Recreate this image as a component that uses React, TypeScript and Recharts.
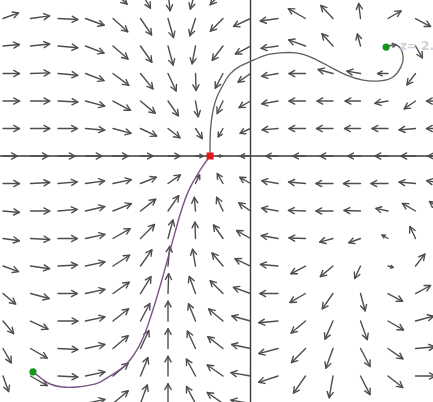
import React from 'react';
import { ComposedChart, XAxis, YAxis, Line, Scatter, ReferenceLine, ReferenceDot } from 'recharts';

// grid of the direction field (grid units)
const columnX = [-9, -8, -7, -6, -5, -4, -3, -2, -1, 0, 1, 2, 3, 4, 5, 6, 7];
const rowY = [6, 5, 4, 3, 2, 1, 0, -1, -2, -3, -4, -5, -6, -7, -8, -9];

// arrow directions in degrees (0 = right, 90 = up); null = not visible
const arrowAngles: (number | null)[][] = [
  [null, null, null, null, -43, -60, -84, -106, -133, -155, null, null, null, null, null, null, null],
  [20, 8, -3, -20, -42, -56, -74, -108, -135, -155, -172, 150, 133, 97, 30, -28, null],
  [5, 6, -5, -21, -41, -55, -75, -101, -127, -152, -172, 160, 132, 105, 10, -60, null],
  [0, 2, -5, -21, -37, -51, -65, -88, -118, -145, -170, 180, 165, 170, 180, -127, null],
  [0, 0, -3, -15, -28, -40, -55, -80, -115, -150, -170, 180, 180, 180, -170, -145, 180],
  [0, 0, 0, -5, -15, -25, -38, -56, -120, -155, -175, 180, 180, 180, 180, -175, 180],
  [0, 0, 0, 0, 0, 0, 0, 0, 180, 180, 180, 180, 180, 180, 180, 180, 180],
  [0, 3, 5, 8, 12, 22, 35, 65, 120, 150, 170, 175, 180, 180, 180, 175, 170],
  [-5, 0, 5, 13, 22, 38, 55, 95, 115, 145, 170, 178, 180, 178, 168, 150, 145],
  [-8, -3, 0, 12, 30, 45, 75, 92, 125, 150, 170, 178, -165, -160, 150, 115, 130],
  [-20, -8, 3, 12, 33, 55, 85, 100, 130, 155, 175, -152, -140, -115, -15, 52, null],
  [-40, -15, 0, 12, 35, 58, 88, 110, 135, 160, 180, -150, -125, -75, -28, 28, null],
  [-50, -25, 0, 12, 38, 62, 90, 112, 140, 165, -175, -140, -114, -70, -30, 15, null],
  [-60, -30, -3, 12, 40, 65, 90, 115, 142, 168, -165, -135, -110, -62, -35, 5, null],
  [-70, -30, -3, 12, 40, 68, 90, 118, 145, 170, -162, -125, -100, -63, -38, 0, null],
  [null, null, null, 12, 40, 70, 90, 118, 145, 170, null, null, null, null, null, null, null],
];

// arrow magnitudes (grid units)
const arrowLengths: number[][] = [
  [0, 0, 0, 0, 0.7, 0.72, 0.72, 0.68, 0.68, 0.68, 0, 0, 0, 0, 0, 0, 0],
  [0.6, 0.7, 0.72, 0.72, 0.72, 0.72, 0.72, 0.66, 0.65, 0.68, 0.65, 0.72, 0.65, 0.55, 0.55, 0.62, 0],
  [0.6, 0.7, 0.72, 0.72, 0.72, 0.72, 0.72, 0.66, 0.65, 0.62, 0.62, 0.65, 0.6, 0.45, 0.3, 0.5, 0],
  [0.6, 0.7, 0.72, 0.72, 0.72, 0.72, 0.7, 0.62, 0.6, 0.55, 0.6, 0.6, 0.56, 0.5, 0.38, 0.52, 0],
  [0.6, 0.7, 0.72, 0.72, 0.72, 0.7, 0.66, 0.58, 0.5, 0.48, 0.6, 0.6, 0.58, 0.56, 0.48, 0.5, 0.6],
  [0.6, 0.7, 0.7, 0.7, 0.68, 0.65, 0.55, 0.44, 0.35, 0.42, 0.58, 0.6, 0.6, 0.58, 0.58, 0.6, 0.6],
  [0.52, 0.64, 0.62, 0.6, 0.55, 0.46, 0.44, 0.28, 0.18, 0.38, 0.44, 0.46, 0.47, 0.46, 0.47, 0.53, 0.55],
  [0.6, 0.7, 0.7, 0.7, 0.68, 0.62, 0.55, 0.35, 0.42, 0.45, 0.6, 0.62, 0.62, 0.62, 0.62, 0.6, 0.6],
  [0.6, 0.7, 0.7, 0.72, 0.72, 0.7, 0.68, 0.5, 0.55, 0.52, 0.6, 0.62, 0.62, 0.6, 0.45, 0.55, 0.6],
  [0.6, 0.7, 0.7, 0.72, 0.72, 0.72, 0.7, 0.6, 0.6, 0.58, 0.62, 0.6, 0.5, 0.45, 0.25, 0.48, 0.5],
  [0.6, 0.7, 0.7, 0.72, 0.72, 0.72, 0.72, 0.62, 0.62, 0.62, 0.64, 0.6, 0.6, 0.5, 0.2, 0.55, 0],
  [0.6, 0.7, 0.7, 0.72, 0.72, 0.72, 0.72, 0.66, 0.66, 0.66, 0.66, 0.65, 0.68, 0.65, 0.6, 0.62, 0],
  [0.6, 0.7, 0.72, 0.72, 0.72, 0.72, 0.72, 0.68, 0.68, 0.7, 0.7, 0.68, 0.72, 0.72, 0.65, 0.68, 0],
  [0.6, 0.7, 0.72, 0.72, 0.72, 0.72, 0.72, 0.7, 0.7, 0.7, 0.72, 0.72, 0.76, 0.74, 0.66, 0.7, 0],
  [0.6, 0.7, 0.72, 0.72, 0.72, 0.72, 0.72, 0.7, 0.7, 0.72, 0.74, 0.76, 0.8, 0.76, 0.68, 0.72, 0],
  [0, 0, 0, 0.72, 0.72, 0.72, 0.72, 0.7, 0.7, 0.72, 0, 0, 0, 0, 0, 0, 0],
];

// trajectory from the equilibrium to the upper green point
const upperCurve = [
  { x: -1.47, y: 0 }, { x: -1.47, y: 0.58 }, { x: -1.44, y: 1.13 }, { x: -1.36, y: 1.67 },
  { x: -1.22, y: 2.15 }, { x: -1.0, y: 2.58 }, { x: -0.75, y: 2.98 }, { x: -0.38, y: 3.27 },
  { x: 0.02, y: 3.45 }, { x: 0.56, y: 3.67 }, { x: 1.07, y: 3.75 }, { x: 1.65, y: 3.75 },
  { x: 2.27, y: 3.56 }, { x: 2.89, y: 3.24 }, { x: 3.47, y: 2.95 }, { x: 4.09, y: 2.76 },
  { x: 4.71, y: 2.73 }, { x: 5.18, y: 2.87 }, { x: 5.47, y: 3.24 }, { x: 5.55, y: 3.6 },
  { x: 5.44, y: 3.93 }, { x: 5.22, y: 4.04 }, { x: 4.93, y: 3.96 },
];

// trajectory from the lower green point to the equilibrium
const lowerCurve = [
  { x: -7.91, y: -7.85 }, { x: -7.58, y: -8.11 }, { x: -7.29, y: -8.29 }, { x: -6.85, y: -8.4 },
  { x: -6.31, y: -8.4 }, { x: -5.84, y: -8.33 }, { x: -5.47, y: -8.22 }, { x: -5.04, y: -7.96 },
  { x: -4.67, y: -7.71 }, { x: -4.38, y: -7.42 }, { x: -4.13, y: -7.05 }, { x: -3.91, y: -6.62 },
  { x: -3.73, y: -6.15 }, { x: -3.55, y: -5.6 }, { x: -3.36, y: -4.98 }, { x: -3.18, y: -4.36 },
  { x: -3.0, y: -3.71 }, { x: -2.82, y: -3.05 }, { x: -2.64, y: -2.4 }, { x: -2.45, y: -1.78 },
  { x: -2.24, y: -1.24 }, { x: -1.98, y: -0.76 }, { x: -1.73, y: -0.36 }, { x: -1.47, y: 0 },
];

const equilibrium = [{ x: -1.47, y: 0 }];
const startPoints = [{ x: 4.93, y: 3.96 }, { x: -7.91, y: -7.85 }];
const sliderLabel = 'z= 2.';

const X_DOMAIN: [number, number] = [-9.109, 6.636];
const Y_DOMAIN: [number, number] = [-8.945, 5.673];

type Arrow = { key: string; x: number; y: number; x2: number; y2: number };
const arrows: Arrow[] = [];
rowY.forEach((y, r) => {
  columnX.forEach((x, c) => {
    const a = arrowAngles[r][c];
    const l = arrowLengths[r][c];
    if (a === null || !l) return;
    const rad = (a * Math.PI) / 180;
    arrows.push({ key: `a${r}_${c}`, x, y, x2: x + l * Math.cos(rad), y2: y + l * Math.sin(rad) });
  });
});

const ArrowShape = (props: any) => {
  const { x1, y1, x2, y2 } = props;
  const dx = x2 - x1;
  const dy = y2 - y1;
  const len = Math.hypot(dx, dy);
  if (!len || isNaN(len)) return <g />;
  const bx = -dx / len;
  const by = -dy / len;
  const h = Math.min(6.5, len * 0.5);
  const t = (28 * Math.PI) / 180;
  const c = Math.cos(t);
  const s = Math.sin(t);
  const p1x = x2 + h * (bx * c - by * s);
  const p1y = y2 + h * (bx * s + by * c);
  const p2x = x2 + h * (bx * c + by * s);
  const p2y = y2 + h * (-bx * s + by * c);
  return (
    <g>
      <line x1={x1} y1={y1} x2={x2} y2={y2} stroke="#4d4d4d" strokeWidth={1.4} strokeLinecap="round" />
      <polyline
        points={`${p1x},${p1y} ${x2},${y2} ${p2x},${p2y}`}
        fill="none"
        stroke="#4d4d4d"
        strokeWidth={1.4}
        strokeLinecap="round"
        strokeLinejoin="round"
      />
    </g>
  );
};

const RedSquare = (props: any) => {
  const { cx, cy } = props;
  return <rect x={cx - 3.5} y={cy - 3.5} width={7} height={7} fill="#e8141c" />;
};

const GreenDot = (props: any) => {
  const { cx, cy } = props;
  return <circle cx={cx} cy={cy} r={3.6} fill="#15951f" />;
};

export default function App() {
  return (
    <div style={{ position: 'absolute', left: 0, top: 0, width: 433, height: 402, background: '#fff' }}>
      <ComposedChart width={433} height={402} margin={{ top: 0, right: 0, bottom: 0, left: 0 }}>
        <XAxis type="number" dataKey="x" domain={X_DOMAIN} allowDataOverflow hide />
        <YAxis type="number" dataKey="y" domain={Y_DOMAIN} allowDataOverflow hide />
        <ReferenceLine x={0} stroke="#3a3a3a" strokeWidth={1.4} ifOverflow="visible" />
        <ReferenceLine y={0} stroke="#3a3a3a" strokeWidth={1.4} ifOverflow="visible" />
        <ReferenceDot
          x={5.25}
          y={4.0}
          r={0}
          fill="none"
          stroke="none"
          label={{ value: sliderLabel, position: 'right', offset: 5, fill: '#d2d2d2', fontSize: 12, fontFamily: 'DejaVu Sans', fontWeight: 'bold' }}
        />
        {arrows.map((a) => (
          <ReferenceLine
            key={a.key}
            segment={[{ x: a.x, y: a.y }, { x: a.x2, y: a.y2 }]}
            ifOverflow="visible"
            shape={ArrowShape}
          />
        ))}
        <Line
          data={upperCurve}
          dataKey="y"
          type="natural"
          stroke="#5f5f5f"
          strokeWidth={1.3}
          dot={false}
          activeDot={false}
          isAnimationActive={false}
        />
        <Line
          data={lowerCurve}
          dataKey="y"
          type="natural"
          stroke="#7a5486"
          strokeWidth={1.4}
          dot={false}
          activeDot={false}
          isAnimationActive={false}
        />
        <Scatter data={equilibrium} shape={RedSquare} isAnimationActive={false} />
        <Scatter data={startPoints} shape={GreenDot} isAnimationActive={false} />
      </ComposedChart>
    </div>
  );
}
